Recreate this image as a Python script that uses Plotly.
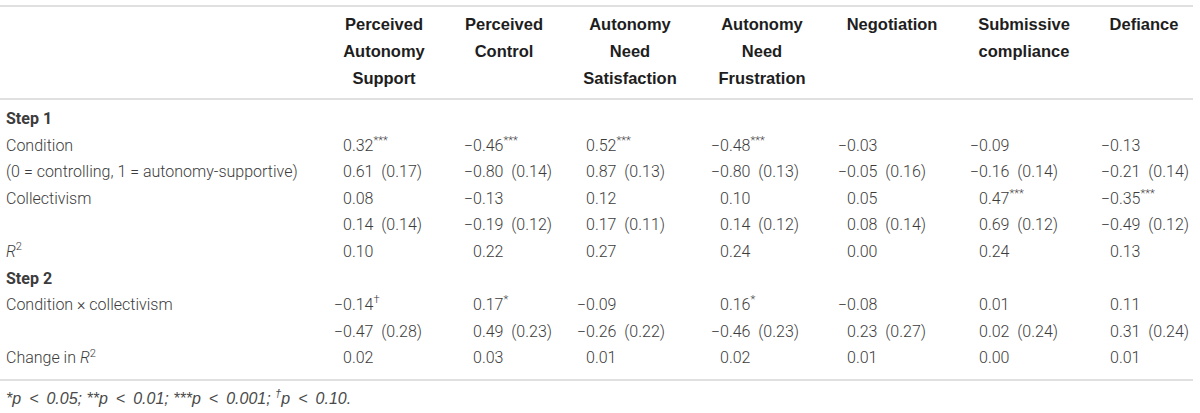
import plotly.graph_objects as go

# naglowki kolumn (kazda linia osobno)
headers = [
    ["Perceived", "Autonomy", "Support"],
    ["Perceived", "Control"],
    ["Autonomy", "Need", "Satisfaction"],
    ["Autonomy", "Need", "Frustration"],
    ["Negotiation"],
    ["Submissive", "compliance"],
    ["Defiance"],
]

row_labels = [
    "<b>Step 1</b>",
    "Condition",
    "(0 = controlling, 1 = autonomy-supportive)",
    "Collectivism",
    "",
    "<i>R</i><sup>2</sup>",
    "<b>Step 2</b>",
    "Condition \u00d7 collectivism",
    "",
    "Change in <i>R</i><sup>2</sup>",
]

condition_beta = ["0.32***", "\u22120.46***", "0.52***", "\u22120.48***", "\u22120.03", "\u22120.09", "\u22120.13"]
condition_b_se = ["0.61 (0.17)", "\u22120.80 (0.14)", "0.87 (0.13)", "\u22120.80 (0.13)", "\u22120.05 (0.16)", "\u22120.16 (0.14)", "\u22120.21 (0.14)"]
collect_beta = ["0.08", "\u22120.13", "0.12", "0.10", "0.05", "0.47***", "\u22120.35***"]
collect_b_se = ["0.14 (0.14)", "\u22120.19 (0.12)", "0.17 (0.11)", "0.14 (0.12)", "0.08 (0.14)", "0.69 (0.12)", "\u22120.49 (0.12)"]
r2_step1 = ["0.10", "0.22", "0.27", "0.24", "0.00", "0.24", "0.13"]
inter_beta = ["\u22120.14\u2020", "0.17*", "\u22120.09", "0.16*", "\u22120.08", "0.01", "0.11"]
inter_b_se = ["\u22120.47 (0.28)", "0.49 (0.23)", "\u22120.26 (0.22)", "\u22120.46 (0.23)", "0.23 (0.27)", "0.02 (0.24)", "0.31 (0.24)"]
r2_change = ["0.02", "0.03", "0.01", "0.02", "0.01", "0.00", "0.01"]

footnote = "*p < 0.05; **p < 0.01; ***p < 0.001; \u2020p < 0.10."

# wiersze tabeli -> wartosci (None = brak wartosci)
body = [None, condition_beta, condition_b_se, collect_beta, collect_b_se,
        r2_step1, None, inter_beta, inter_b_se, r2_change]

# uklad
col_center = [384, 504, 630, 762, 892, 1024, 1144]
col_digit = [343, 473, 586, 720, 847, 979, 1110]
header_y = [26, 53, 80]
row_y = [120 + i * 26.6 for i in range(len(row_labels))]
label_x = 6

body_font = dict(family="Roboto", size=16, color="#3c3c3c", weight=300)
bold_font = dict(family="Liberation Sans", size=16.5, color="#1e1e1e")


def fmt(cell):
    # gwiazdki i krzyzyk jako indeks gorny, podwojna spacja przed nawiasem
    for mark in ["***", "*", "\u2020"]:
        if cell.endswith(mark):
            cell = cell[: -len(mark)] + "<sup>" + mark + "</sup>"
            break
    return cell.replace(" (", "\u00a0\u00a0(")


fig = go.Figure()

# naglowki
hx, hy, ht = [], [], []
for c, lines in enumerate(headers):
    for i, t in enumerate(lines):
        hx.append(col_center[c])
        hy.append(header_y[i])
        ht.append("<b>" + t + "</b>")
fig.add_trace(go.Scatter(x=hx, y=hy, text=ht, mode="text", textposition="middle center",
                         textfont=bold_font, hoverinfo="skip"))

# etykiety wierszy
fig.add_trace(go.Scatter(x=[label_x] * len(row_labels), y=row_y, text=row_labels, mode="text",
                         textposition="middle right", textfont=body_font, hoverinfo="skip"))

# wartosci: cyfry wyrownane, minus wysuniety w lewo
vx, vy, vt, mx, my = [], [], [], [], []
for r, vals in enumerate(body):
    if vals is None:
        continue
    for c, v in enumerate(vals):
        if v.startswith("\u2212"):
            mx.append(col_digit[c])
            my.append(row_y[r])
            v = v[1:]
        vx.append(col_digit[c])
        vy.append(row_y[r])
        vt.append(fmt(v))
fig.add_trace(go.Scatter(x=vx, y=vy, text=vt, mode="text", textposition="middle right",
                         textfont=body_font, hoverinfo="skip"))
fig.add_trace(go.Scatter(x=mx, y=my, text=["\u2212"] * len(mx), mode="text", textposition="middle left",
                         textfont=body_font, hoverinfo="skip"))

# przypis (szersze odstepy wokol "<", krzyzyk w indeksie gornym)
foot_txt = footnote.replace(" < ", "\u2002&lt;\u2002").replace("\u2020", "<sup>\u2020</sup>")
fig.add_trace(go.Scatter(x=[label_x], y=[400], text=["<i>" + foot_txt + "</i>"], mode="text",
                         textposition="middle right",
                         textfont=dict(family="Liberation Sans", size=16, color="#4a4a4a"),
                         hoverinfo="skip"))

# linie poziome
for y in [6, 99, 380]:
    fig.add_shape(type="line", x0=0, x1=1193, y0=y, y1=y, xref="x", yref="y",
                  line=dict(color="#d6d6d6", width=1.5))

fig.update_layout(
    width=1200, height=413,
    margin=dict(l=0, r=0, t=0, b=0),
    plot_bgcolor="white", paper_bgcolor="white",
    showlegend=False,
    xaxis=dict(range=[0, 1200], visible=False, fixedrange=True),
    yaxis=dict(range=[413, 0], visible=False, fixedrange=True),
)

# bez marginesu strony, zeby wykres zaczynal sie w rogu okna
fig.write_html("out.html", config={"displayModeBar": False},
               post_script="document.body.style.margin='0px';document.body.style.overflow='hidden';")
